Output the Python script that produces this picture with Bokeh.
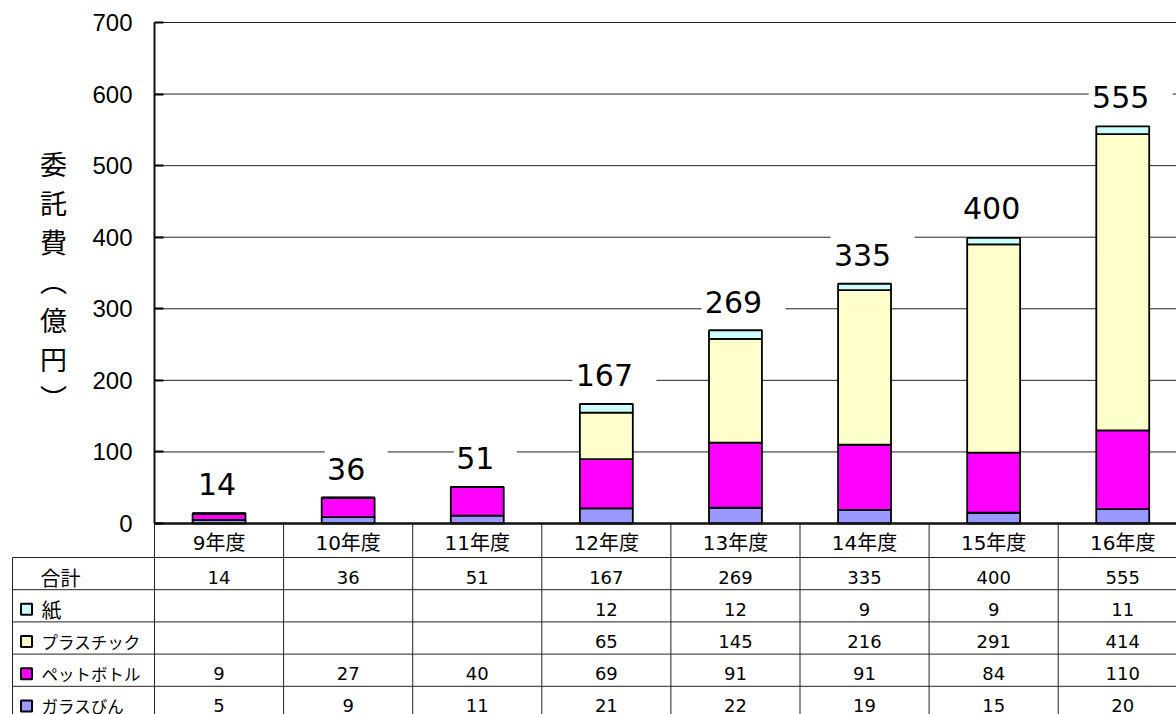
from bokeh.plotting import figure
from bokeh.models import Range1d, FixedTicker, ColumnDataSource, LinearAxis
from bokeh.core.properties import value
from bokeh.embed import file_html
from bokeh.resources import INLINE

# ---------------- data ----------------
years = ["9年度", "10年度", "11年度", "12年度", "13年度", "14年度", "15年度", "16年度"]
total = [14, 36, 51, 167, 269, 335, 400, 555]
paper = [None, None, None, 12, 12, 9, 9, 11]          # 紙
plastic = [None, None, None, 65, 145, 216, 291, 414]  # プラスチック
pet = [9, 27, 40, 69, 91, 91, 84, 110]                # ペットボトル
glass = [5, 9, 11, 21, 22, 19, 15, 20]                # ガラスびん
y_ticks = [0, 100, 200, 300, 400, 500, 600, 700]
y_title = ["委", "託", "費", "︵", "億", "円", "︶"]
total_label = "合計"
series_labels = ["紙", "プラスチック", "ペットボトル", "ガラスびん"]

# ---------------- style ----------------
C_GLASS, C_PET, C_PLASTIC, C_PAPER = "#9999FF", "#FF00FF", "#FFFFCC", "#CCFFFF"
NUM_FONT = "Liberation Sans, Noto Sans CJK JP"
WIDE_FONT = "DejaVu Sans, Noto Sans CJK JP"
JP_FONT = "Noto Sans CJK JP"

W, H = 1176, 714
ORG = 0  # page pixel of canvas origin
# page-pixel geometry -> data units
PX_X0, PX_PER_CAT = 154.0, 129.1
PX_Y0, PX_PER_UNIT = 523.0, 501.0 / 700.0


def dx(px):
    return (px - PX_X0) / PX_PER_CAT


def dy(py):
    return (PX_Y0 - py) / PX_PER_UNIT


x_start, x_end = dx(ORG), dx(ORG + W)
y_start, y_end = dy(ORG + H), dy(ORG)

p = figure(width=W, height=H, output_backend="svg", toolbar_location=None,
           x_range=Range1d(x_start, x_end), y_range=Range1d(y_start, y_end),
           min_border=0, x_axis_location=None, y_axis_location=None)
p.outline_line_color = None
p.background_fill_color = "white"
p.border_fill_color = "white"
p.xgrid.visible = False
p.ygrid.visible = False

n = len(years)
xc = [i + 0.5 for i in range(n)]

# gridlines
grid_y = [t for t in y_ticks if t > 0]
p.segment(x0=[0] * len(grid_y), x1=[x_end] * len(grid_y), y0=grid_y, y1=grid_y,
          line_color="#222222", line_width=1)

# table lines
row_h = 32.2
row_top_px = [557 + row_h * k for k in range(5)]
hx0 = [dx(12)] * len(row_top_px)
hx1 = [x_end] * len(row_top_px)
hy = [dy(v) for v in row_top_px]
p.segment(x0=hx0, x1=hx1, y0=hy, y1=hy, line_color="#222222", line_width=1)
vx = [dx(12)] + list(range(0, n))
vy0 = [dy(557)] + [0] * n
vy1 = [y_start] * len(vx)
p.segment(x0=vx, x1=vx, y0=vy0, y1=vy1, line_color="#222222", line_width=1)

# stacked bars
src = ColumnDataSource(dict(
    x=xc,
    glass=glass,
    pet=pet,
    plastic=[v or 0 for v in plastic],
    paper=[v or 0 for v in paper],
))
p.vbar_stack(["glass", "pet", "plastic", "paper"], x="x", width=0.41, source=src,
             fill_color=[C_GLASS, C_PET, C_PLASTIC, C_PAPER],
             line_color="black", line_width=1.8)

# total labels with white boxes
off = 29 / PX_PER_UNIT
lab_y = [t + off for t in total]
lab_txt = [str(t) for t in total]
p.rect(x=[x + 8 / PX_PER_CAT for x in xc], y=lab_y,
       width=[21 * (len(s) + 1) for s in lab_txt], height=40,
       width_units="screen", height_units="screen",
       fill_color="white", line_color=None)
p.text(x=[x - 2 / PX_PER_CAT for x in xc], y=lab_y, text=lab_txt,
       text_font=value(WIDE_FONT), text_font_size="30px", text_color="black",
       text_align="center", text_baseline="middle")

# y axis (at x = 0)
yax = LinearAxis(fixed_location=0, ticker=FixedTicker(ticks=y_ticks), bounds=(0, 700))
yax.axis_line_color = "#111111"
yax.axis_line_width = 2
yax.major_tick_in = 9
yax.major_tick_out = 0
yax.major_tick_line_width = 2
yax.minor_tick_line_color = None
yax.major_label_standoff = 22
yax.major_label_text_font = NUM_FONT
yax.major_label_text_font_size = "24px"
yax.major_label_text_color = "black"
p.add_layout(yax, "left")

# x axis (at y = 0) with year labels
xax = LinearAxis(fixed_location=0, ticker=FixedTicker(ticks=xc), bounds=(0, x_end))
xax.major_label_overrides = {x: s for x, s in zip(xc, years)}
xax.axis_line_color = "#111111"
xax.axis_line_width = 2.5
xax.major_tick_in = 0
xax.major_tick_out = 0
xax.minor_tick_line_color = None
xax.major_label_standoff = 7
xax.major_label_text_font = WIDE_FONT
xax.major_label_text_font_size = "20px"
xax.major_label_text_color = "black"
p.add_layout(xax, "below")

# vertical y-axis title
p.text(x=[dx(53)] * len(y_title), y=[dy(163 + 39 * i) for i in range(len(y_title))],
       text=y_title, text_font=value(JP_FONT), text_font_size="27px",
       text_color="black", text_align="center", text_baseline="middle")

# table contents
rows = [total, paper, plastic, pet, glass]
row_cy = [dy(row_top_px[0] + row_h * (k + 0.5) + 3.5) for k in range(5)]
tx, ty, tt = [], [], []
for k, vals in enumerate(rows):
    for i, v in enumerate(vals):
        if v is None:
            continue
        tx.append(xc[i])
        ty.append(row_cy[k])
        tt.append(str(v))
p.text(x=tx, y=ty, text=tt, text_font=value(WIDE_FONT), text_font_size="18px",
       text_color="black", text_align="center", text_baseline="middle")

# row labels
p.text(x=[dx(40), dx(41)], y=row_cy[:2], text=[total_label, series_labels[0]],
       text_font=value(JP_FONT), text_font_size="20px", text_color="black",
       text_align="left", text_baseline="middle")
p.text(x=[dx(41)] * 3, y=row_cy[2:], text=series_labels[1:],
       text_font=value(JP_FONT), text_font_size="16.5px", text_color="black",
       text_align="left", text_baseline="middle")
p.scatter(x=[dx(26)] * 4, y=row_cy[1:], marker="square", size=11,
          fill_color=[C_PAPER, C_PLASTIC, C_PET, C_GLASS],
          line_color="black", line_width=2)

open("out.html", "w").write(file_html(p, INLINE))
